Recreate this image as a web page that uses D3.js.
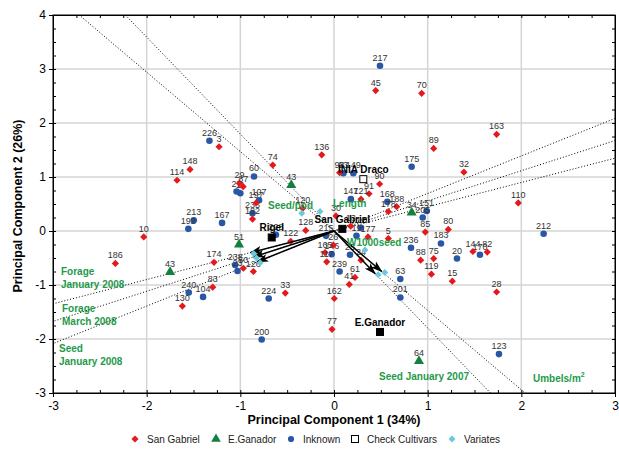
<!DOCTYPE html>
<html>
<head>
<meta charset="utf-8">
<script src="https://cdn.jsdelivr.net/npm/d3@7"></script>
<style>
  body { margin: 0; background: #fff; }
  svg { font-family: Arial, "Liberation Sans", sans-serif; }
  .pt-label { font-size: 9px; fill: #333; text-anchor: middle; }
  .check-label { font-size: 10px; font-weight: bold; fill: #000; text-anchor: middle; }
  .var-label { font-size: 10px; font-weight: bold; fill: #1e9a4a; }
  .tick text { font-size: 12px; fill: #000; }
</style>
</head>
<body>
<div id="chart"></div>
<script>
// Biplot of PCA scores — accessions by origin, check cultivars and variate vectors

const sanGabriel = [
    ["45", 0.445, 2.60], ["70", 0.936, 2.55], ["163", 1.736, 1.79], ["89", 1.064, 1.53],
    ["3", -1.227, 1.56], ["136", -0.131, 1.41], ["148", -1.537, 1.14], ["114", -1.676, 0.94],
    ["10", -2.031, -0.11], ["186", -2.334, -0.60], ["74", -0.654, 1.22], ["32", 1.387, 1.09],
    ["110", 1.967, 0.52], ["80", 1.22, 0.03], ["85", 0.975, -0.02], ["144", 1.483, -0.38],
    ["82", 1.636, -0.39], ["88", 0.925, -0.54], ["75", 1.064, -0.51], ["119", 1.04, -0.80],
    ["15", 1.263, -0.93], ["28", 1.736, -1.13], ["33", -0.52, -1.15], ["162", 0.003, -1.25],
    ["77", -0.021, -1.82], ["41", 0.163, -0.99], ["61", 0.224, -0.86], ["83", -1.295, -1.04],
    ["130", -1.619, -1.39], ["174", -1.281, -0.58], ["126", -0.861, -0.75], ["50", -0.968, -0.69],
    ["122", -0.462, -0.19], ["128", -0.302, 0.01], ["120", -0.334, 0.42], ["29", -1.01, 0.88],
    ["87", -0.97, 0.82], ["197", -0.832, 0.52], ["182", -0.87, 0.22], ["30", 0.021, 0.28],
    ["121", 0.288, 0.59], ["91", 0.374, 0.69], ["90", 0.487, 0.87], ["98", 0.06, 1.08],
    ["188", 0.669, 0.45], ["178", 0.58, 0.36], ["5", 0.58, -0.14], ["13", 0.178, 0.09],
    ["177", 0.363, -0.11], ["165", -0.096, -0.40], ["26", -0.007, -0.26], ["117", -0.078, -0.57],
    ["24", 0.288, -0.54]
];

const inknown = [
    ["217", 0.491, 3.06], ["226", -1.33, 1.67], ["60", -0.854, 1.01], ["213", -1.497, 0.20],
    ["192", -1.555, 0.04], ["167", -1.195, 0.15], ["175", 0.829, 1.19], ["147", 0.18, 0.59],
    ["149", 0.206, 1.07], ["93", 0.10, 1.07], ["168", 0.569, 0.54], ["151", 0.989, 0.37],
    ["205", 0.947, 0.25], ["236", 0.822, -0.31], ["183", 1.142, -0.23], ["20", 1.313, -0.51],
    ["170", 1.558, -0.44], ["212", 2.238, -0.05], ["240", -1.551, -1.14], ["104", -1.398, -1.22],
    ["224", -0.697, -1.25], ["200", -0.772, -2.01], ["239", 0.06, -0.75], ["63", 0.708, -0.89],
    ["201", 0.708, -1.23], ["123", 1.761, -2.28], ["107", -0.80, 0.57], ["235", -0.87, 0.33],
    ["27", -1.04, 0.73], ["11", -1.0, 0.70], ["228", -0.62, -0.07], ["238", -1.055, -0.63],
    ["23", -1.03, -0.74], ["215", -0.085, -0.09], ["19", 0.24, -0.09], ["12", 0.288, 0.06],
    ["146", -0.025, -0.43], ["25", 0.171, -0.44]
];

const eGanador = [
    ["43", -0.456, 0.85], ["51", -1.014, -0.25], ["43", -1.75, -0.76], ["34", 0.829, 0.34],
    ["64", 0.907, -2.41]
];

const checkNames = ["San Gabriel", "Rigel", "E.Ganador", "INIA Draco"];
const checkX = [0.089, -0.665, 0.491, 0.313];
const checkY = [0.04, -0.12, -1.87, 0.96];
const checkOpen = [false, false, false, true];

// variate vectors: tip coordinates; arrows and dotted axes only for the long ones
const variateNames = ["Forage January 2008", "Forage March 2008", "Seed January 2008",
                      "Seed January 2007", "Umbels/m2", "Seed/pod", "Length", "W1000seed"];
const variateX = [-0.89, -0.86, -0.82, 0.44, 0.51, -0.344, -0.149, 0.331];
const variateY = [-0.40, -0.48, -0.57, -0.79, -0.75, 0.33, 0.36, -0.35];
const variateArrow = [true, true, true, true, true, false, false, false];

const xTicks = [-3, -2, -1, 0, 1, 2, 3];
const yTicks = [-3, -2, -1, 0, 1, 2, 3, 4];

const legendItems = ["San Gabriel", "E.Ganador", "Inknown", "Check Cultivars", "Variates"];

const COLORS = {
    red: "#e5191c",
    blue: "#2a56a6",
    green: "#12803f",
    cyan: "#6cc8dd",
};

const width = 619, height = 450;
const plot = { left: 53, right: 615, top: 15, bottom: 393 };

const svg = d3.select("#chart").append("svg")
    .attr("width", width).attr("height", height);

const x = d3.scaleLinear().domain([-3, 3]).range([plot.left, plot.right]);
const y = d3.scaleLinear().domain([-3, 4]).range([plot.bottom, plot.top]);

svg.append("defs").append("clipPath").attr("id", "plot-clip")
    .append("rect")
    .attr("x", plot.left).attr("y", plot.top)
    .attr("width", plot.right - plot.left).attr("height", plot.bottom - plot.top);

svg.select("defs").append("marker")
    .attr("id", "arrow")
    .attr("markerUnits", "userSpaceOnUse")
    .attr("viewBox", "0 0 12 8")
    .attr("refX", 11).attr("refY", 4)
    .attr("markerWidth", 12).attr("markerHeight", 8)
    .attr("orient", "auto")
    .append("path")
    .attr("d", "M0,0 L12,4 L0,8 L3,4 z")
    .attr("fill", "#000");

// Grid
const grid = svg.append("g");
grid.selectAll(".vg").data(xTicks.slice(1, -1)).join("line")
    .attr("x1", d => x(d)).attr("x2", d => x(d))
    .attr("y1", plot.top).attr("y2", plot.bottom)
    .attr("stroke", "#d4d4d4").attr("stroke-width", 1.5);
grid.selectAll(".hg").data(yTicks.slice(1, -1)).join("line")
    .attr("y1", d => y(d)).attr("y2", d => y(d))
    .attr("x1", plot.left).attr("x2", plot.right)
    .attr("stroke", "#d4d4d4").attr("stroke-width", 1.5);

// Axes
const minorX = d3.range(-3, 3.001, 0.25);
const minorY = d3.range(-3, 4.001, 0.25);

function styleAxis(sel) {
    sel.select(".domain").attr("stroke", "#000");
    sel.selectAll(".tick line").attr("stroke", "#000");
}

svg.append("g").attr("transform", `translate(0,${plot.bottom})`)
    .call(d3.axisBottom(x).tickValues(xTicks).tickFormat(d => String(d))
        .tickSizeInner(4).tickSizeOuter(0).tickPadding(4))
    .call(styleAxis)
    .call(g => g.selectAll("text").attr("font-family", null).attr("font-size", null));
svg.append("g").attr("transform", `translate(0,${plot.bottom})`)
    .call(d3.axisBottom(x).tickValues(minorX).tickSize(-3).tickFormat(""))
    .call(styleAxis);
svg.append("g").attr("transform", `translate(0,${plot.top})`)
    .call(d3.axisTop(x).tickValues(minorX).tickSize(-3).tickFormat(""))
    .call(styleAxis);

svg.append("g").attr("transform", `translate(${plot.left},0)`)
    .call(d3.axisLeft(y).tickValues(yTicks).tickFormat(d => String(d))
        .tickSizeInner(4).tickSizeOuter(0).tickPadding(3))
    .call(styleAxis)
    .call(g => g.selectAll("text").attr("font-family", null).attr("font-size", null));
svg.append("g").attr("transform", `translate(${plot.left},0)`)
    .call(d3.axisLeft(y).tickValues(minorY).tickSize(-3).tickFormat(""))
    .call(styleAxis);
svg.append("g").attr("transform", `translate(${plot.right},0)`)
    .call(d3.axisRight(y).tickValues(minorY).tickSize(-3).tickFormat(""))
    .call(styleAxis);

svg.append("rect")
    .attr("x", plot.left).attr("y", plot.top)
    .attr("width", plot.right - plot.left).attr("height", plot.bottom - plot.top)
    .attr("fill", "none").attr("stroke", "#000").attr("stroke-width", 1);

// Axis titles
svg.append("text")
    .attr("x", (plot.left + plot.right) / 2).attr("y", 424)
    .attr("text-anchor", "middle")
    .attr("font-size", 12.5).attr("font-weight", "bold")
    .text("Principal Component 1 (34%)");
svg.append("text")
    .attr("transform", `translate(22,${(plot.top + plot.bottom) / 2 + 2}) rotate(-90)`)
    .attr("text-anchor", "middle")
    .attr("font-size", 12.5).attr("font-weight", "bold")
    .text("Principal Component 2 (26%)");

const body = svg.append("g").attr("clip-path", "url(#plot-clip)");

// Dotted variate axes through the origin
const vecIdx = d3.range(variateNames.length).filter(i => variateArrow[i]);
body.selectAll(".vaxis").data(vecIdx).join("line")
    .attr("x1", i => x(-12 * variateX[i])).attr("y1", i => y(-12 * variateY[i]))
    .attr("x2", i => x(12 * variateX[i])).attr("y2", i => y(12 * variateY[i]))
    .attr("stroke", "#000").attr("stroke-width", 1)
    .attr("stroke-dasharray", "1,2");

const sym = (type, size) => d3.symbol().type(type).size(size)();
// diamonds in the reference are squares turned 45 degrees
const DIAMOND = { type: d3.symbolSquare, rot: 45 };

function drawGroup(data, shape, size, color) {
    const g = body.append("g");
    g.selectAll("path").data(data).join("path")
        .attr("d", sym(shape.type, size))
        .attr("transform", d => `translate(${x(d[1])},${y(d[2])}) rotate(${shape.rot || 0})`)
        .attr("fill", color);
    g.selectAll("text").data(data).join("text")
        .attr("class", "pt-label")
        .attr("x", d => x(d[1]))
        .attr("y", d => y(d[2]) - 5)
        .text(d => d[0]);
}

drawGroup(inknown, { type: d3.symbolCircle }, 34, COLORS.blue);
drawGroup(sanGabriel, DIAMOND, 26, COLORS.red);
drawGroup(eGanador, { type: d3.symbolTriangle }, 44, COLORS.green);

// Arrows for variates
body.selectAll(".arrow").data(vecIdx).join("line")
    .attr("x1", x(0)).attr("y1", y(0))
    .attr("x2", i => x(variateX[i])).attr("y2", i => y(variateY[i]))
    .attr("stroke", "#000").attr("stroke-width", 1.5)
    .attr("marker-end", "url(#arrow)");

body.selectAll(".vpt").data(variateNames).join("path")
    .attr("d", sym(d3.symbolSquare, 24))
    .attr("transform", (d, i) => `translate(${x(variateX[i]) + (variateArrow[i] ? 3 : 0)},${y(variateY[i]) + (variateArrow[i] ? 1 : 0)}) rotate(45)`)
    .attr("fill", COLORS.cyan);

// Check cultivars
const checks = body.append("g");
checks.selectAll("rect").data(checkNames).join("rect")
    .attr("x", (d, i) => x(checkX[i]) - 3.5)
    .attr("y", (d, i) => y(checkY[i]) - 3.5)
    .attr("width", 7).attr("height", 7)
    .attr("fill", (d, i) => checkOpen[i] ? "#fff" : "#000")
    .attr("stroke", "#000").attr("stroke-width", 1);
checks.selectAll("text").data(checkNames).join("text")
    .attr("class", "check-label")
    .attr("x", (d, i) => x(checkX[i]))
    .attr("y", (d, i) => y(checkY[i]) - 6)
    .text(d => d);

// Variate labels
const varLabelPos = [
    { lines: ["Forage", "January 2008"], x: 61, y: 275 },
    { lines: ["Forage", "March 2008"], x: 62, y: 312 },
    { lines: ["Seed", "January 2008"], x: 59, y: 352 },
    { lines: ["Seed January 2007"], x: 379, y: 380 },
    { lines: ["Umbels/m"], x: 533, y: 382, sup: "2" },
    { lines: ["Seed/pod"], x: 268, y: 209 },
    { lines: ["Length"], x: 333, y: 207 },
    { lines: ["W1000seed"], x: 347, y: 246 },
];
varLabelPos.forEach(p => {
    const t = svg.append("text").attr("class", "var-label")
        .attr("x", p.x).attr("y", p.y);
    p.lines.forEach((line, k) => {
        t.append("tspan").attr("x", p.x).attr("dy", k === 0 ? 0 : 13).text(line);
    });
    if (p.sup) {
        t.append("tspan").attr("dy", -5).attr("font-size", 7).text(p.sup);
    }
});

// Legend
const legendX = [135, 216, 291, 355, 452];
const legendY = 439;
const legend = svg.append("g");
const legendSym = [
    { type: d3.symbolSquare, size: 26, rot: 45, fill: COLORS.red },
    { type: d3.symbolTriangle, size: 40, rot: 0, fill: COLORS.green },
    { type: d3.symbolCircle, size: 30, rot: 0, fill: COLORS.blue },
    null,
    { type: d3.symbolSquare, size: 24, rot: 45, fill: COLORS.cyan },
];
legendItems.forEach((name, i) => {
    const cx = legendX[i];
    if (legendSym[i]) {
        legend.append("path")
            .attr("d", sym(legendSym[i].type, legendSym[i].size))
            .attr("transform", `translate(${cx},${legendY}) rotate(${legendSym[i].rot})`)
            .attr("fill", legendSym[i].fill);
    } else {
        legend.append("rect")
            .attr("x", cx - 3.5).attr("y", legendY - 3.5)
            .attr("width", 7).attr("height", 7)
            .attr("fill", "#fff").attr("stroke", "#000");
    }
    legend.append("text")
        .attr("x", cx + 12).attr("y", legendY + 3.5)
        .attr("font-size", 10).attr("fill", "#222")
        .text(name);
});
</script>
</body>
</html>
